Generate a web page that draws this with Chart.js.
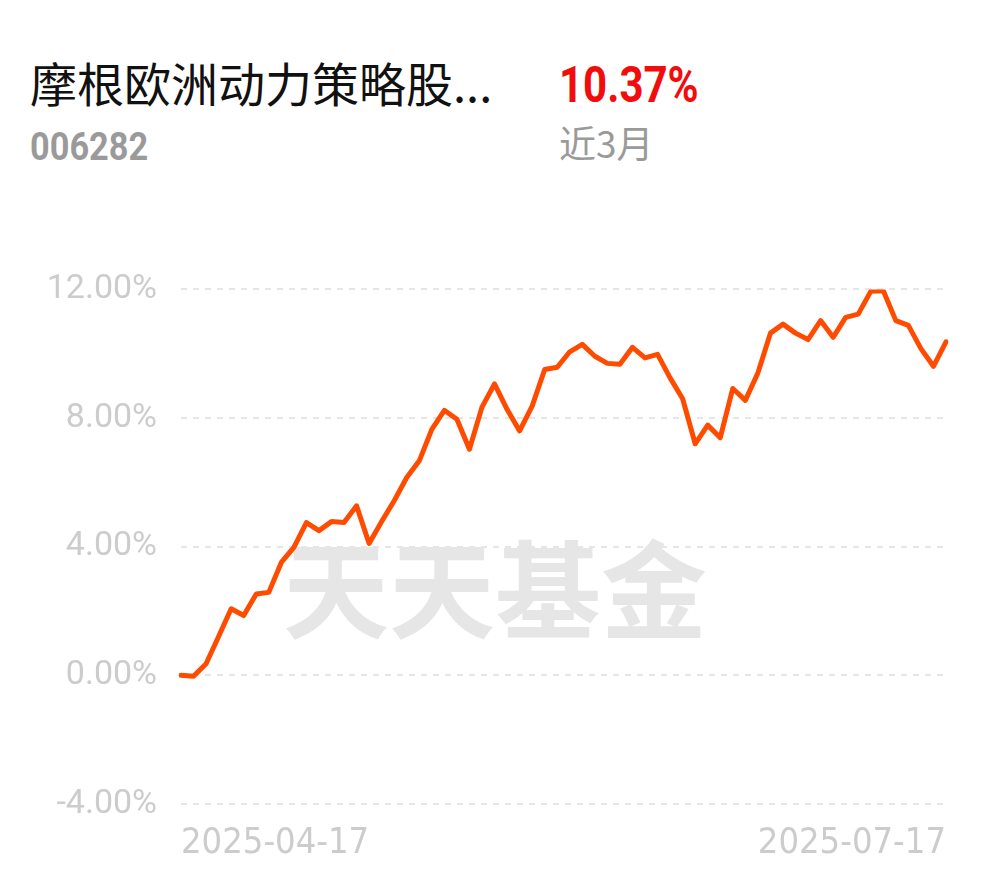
<!DOCTYPE html>
<html>
<head>
<meta charset="utf-8">
<script src="https://cdn.jsdelivr.net/npm/chart.js@4/dist/chart.umd.min.js"></script>
<style>
  html, body { margin: 0; padding: 0; background: #fff; width: 990px; height: 878px; overflow: hidden; }
  .txt { position: absolute; white-space: nowrap; transform-origin: 0 0; }
  #fundName { left: 30px; top: 47px; font: 47px "Noto Sans CJK SC", sans-serif; color: #111; }
  #fundCode { left: 30px; top: 124px; font: bold 39px Roboto, sans-serif; color: #9a9a9a; transform: scaleX(0.88); }
  #fundRet { left: 559px; top: 56px; font: bold 50px Roboto, sans-serif; color: #f20c0c; transform: scaleX(0.84); }
  #fundPeriod { left: 559px; top: 115px; font: 37px "Noto Sans CJK SC", sans-serif; color: #9a9a9a; }
  #wrap { position: absolute; left: 0; top: 245px; width: 990px; height: 633px; }
</style>
</head>
<body>
<div class="txt" id="fundName">摩根欧洲动力策略股...</div>
<div class="txt" id="fundCode">006282</div>
<div class="txt" id="fundRet">10.37%</div>
<div class="txt" id="fundPeriod">近3月</div>
<div id="wrap"><canvas id="chart_nav"></canvas></div>
<script>
// trading days shown on the chart
const dates = [
  '2025-04-17','2025-04-18','2025-04-21','2025-04-22','2025-04-23','2025-04-24','2025-04-25',
  '2025-04-28','2025-04-29','2025-04-30','2025-05-06','2025-05-07','2025-05-08','2025-05-09',
  '2025-05-12','2025-05-13','2025-05-14','2025-05-15','2025-05-16','2025-05-19','2025-05-20',
  '2025-05-21','2025-05-22','2025-05-23','2025-05-26','2025-05-27','2025-05-28','2025-05-29',
  '2025-05-30','2025-06-03','2025-06-04','2025-06-05','2025-06-06','2025-06-09','2025-06-10',
  '2025-06-11','2025-06-12','2025-06-13','2025-06-16','2025-06-17','2025-06-18','2025-06-19',
  '2025-06-20','2025-06-23','2025-06-24','2025-06-25','2025-06-26','2025-06-27','2025-06-30',
  '2025-07-01','2025-07-02','2025-07-03','2025-07-04','2025-07-07','2025-07-08','2025-07-09',
  '2025-07-10','2025-07-11','2025-07-14','2025-07-15','2025-07-16','2025-07-17'
];
// cumulative return (%)
const returns = [
  0.00, -0.03, 0.36, 1.21, 2.07, 1.86, 2.53, 2.58, 3.51, 3.98,
  4.75, 4.50, 4.78, 4.75, 5.27, 4.10, 4.78, 5.43, 6.15, 6.67,
  7.65, 8.24, 7.96, 7.03, 8.34, 9.06, 8.27, 7.60, 8.37, 9.51,
  9.58, 10.06, 10.29, 9.92, 9.70, 9.67, 10.20, 9.87, 9.98, 9.25,
  8.60, 7.20, 7.78, 7.39, 8.92, 8.55, 9.40, 10.64, 10.92, 10.64,
  10.44, 11.03, 10.51, 11.13, 11.23, 11.94, 11.96, 11.03, 10.88, 10.16,
  9.61, 10.37
];
const yTicks = [-4, 0, 4, 8, 12];

// 天天基金 watermark, drawn under the line
const watermark = {
  id: 'watermark',
  beforeDatasetsDraw(chart) {
    const ctx = chart.ctx;
    ctx.save();
    ctx.font = 'bold 106px "Noto Sans CJK SC", sans-serif';
    ctx.fillStyle = '#e6e6e6';
    ctx.textAlign = 'center';
    ctx.textBaseline = 'middle';
    ctx.fillText('天天基金', 495, 345);
    ctx.restore();
  }
};

new Chart('chart_nav', {
  type: 'line',
  data: {
    labels: dates,
    datasets: [{
      data: returns,
      borderColor: '#ff4b00',
      borderWidth: 5,
      borderJoinStyle: 'round',
      borderCapStyle: 'round',
      pointRadius: 0,
      tension: 0,
      fill: false
    }]
  },
  options: {
    responsive: true,
    maintainAspectRatio: false,
    animation: false,
    layout: { padding: { top: 14, right: 44, bottom: 0, left: 0 } },
    plugins: { legend: { display: false }, tooltip: { enabled: false } },
    scales: {
      x: {
        afterFit: s => { s.height = 74; },
        grid: { display: false, drawTicks: false },
        border: { display: false },
        ticks: {
          autoSkip: false,
          maxRotation: 0,
          align: 'inner',
          padding: 18,
          color: '#cccccc',
          font: { family: '"DejaVu Sans Condensed", Roboto, sans-serif', size: 36 },
          callback: (v, i) => (i === 0 || i === dates.length - 1) ? dates[i] : ''
        }
      },
      y: {
        min: yTicks[0],
        max: yTicks[yTicks.length - 1],
        afterBuildTicks: s => { s.ticks = yTicks.map(v => ({ value: v })); },
        afterFit: s => { s.width = 181; },
        grid: { color: '#e6e6e6', lineWidth: 2, drawTicks: false },
        border: { display: false, dash: [6, 6] },
        ticks: {
          padding: 24,
          color: '#cccccc',
          font: { family: 'Roboto, sans-serif', size: 34 },
          callback: v => v.toFixed(2) + '%'
        }
      }
    }
  },
  plugins: [watermark]
});
</script>
</body>
</html>
